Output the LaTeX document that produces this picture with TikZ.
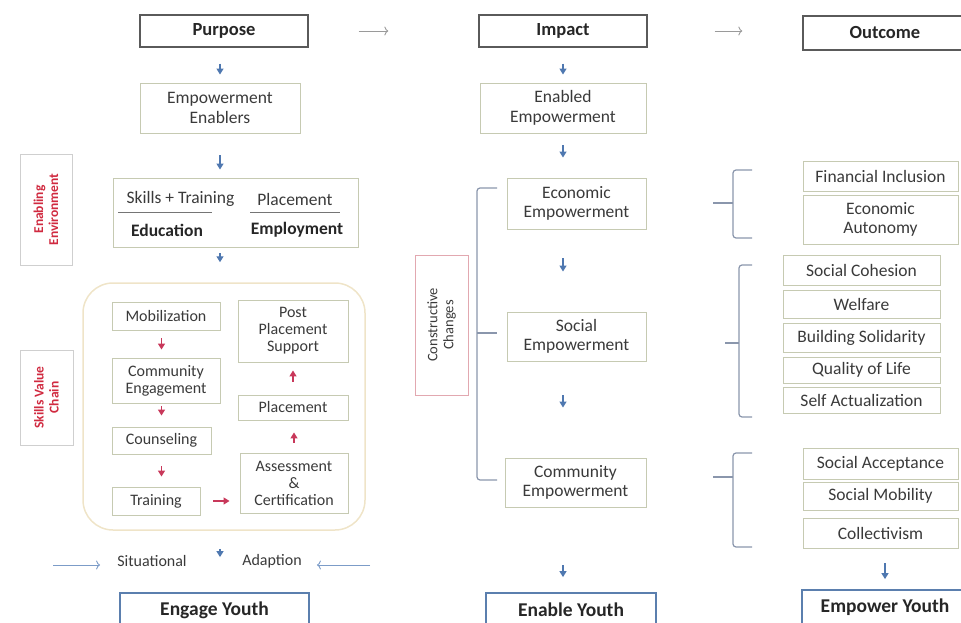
\documentclass[tikz,border=0pt]{standalone}
\usepackage{fontspec}
\setmainfont{Carlito}
\usetikzlibrary{arrows.meta}
\definecolor{txt}{HTML}{3A3A3A}
\definecolor{boxb}{HTML}{C6CAB2}
\definecolor{titleb}{HTML}{5A5A5A}
\definecolor{blueb}{HTML}{5B7FAE}
\definecolor{barr}{HTML}{4F78B0}
\definecolor{rarr}{HTML}{C8385A}
\definecolor{redt}{HTML}{D02A40}
\definecolor{cream}{HTML}{EFE4C8}
\definecolor{brkc}{HTML}{8A96AC}
\definecolor{garr}{HTML}{9A9A9A}
\definecolor{sarr}{HTML}{7C9CC8}
\definecolor{pinkb}{HTML}{E2A8B0}
\definecolor{sideb}{HTML}{CFCFCF}
\tikzset{
  lbox/.style={draw=boxb, line width=0.9pt, text=txt, align=center, inner sep=0pt,
    font=\fontsize{17.5}{19.5}\selectfont},
  cbox/.style={lbox, font=\fontsize{16}{17}\selectfont},
  tbox/.style={draw=titleb, line width=1.3pt, inner sep=0pt, text=black!85,
    font=\bfseries\fontsize{18.5}{20}\selectfont},
  ybox/.style={draw=blueb, line width=1.8pt, inner sep=0pt, text=black!85,
    font=\bfseries\fontsize{19.5}{21}\selectfont},
  sidebox/.style={draw=sideb, line width=0.9pt, inner sep=0pt, rotate=90, align=center,
    text=redt, font=\bfseries\fontsize{13.5}{15}\selectfont},
  barrow/.style={draw=barr, line width=1.3pt, -{Triangle[length=6pt,width=7pt]}},
  rarrow/.style={draw=rarr, line width=1.3pt, -{Triangle[length=6pt,width=7pt]}},
  garrow/.style={draw=garr, line width=0.9pt, -{To[length=4pt,width=9pt]}},
  sarrow/.style={draw=sarr, line width=0.9pt, -{To[length=4pt,width=9pt]}},
  brk/.style={draw=brkc, line width=1.2pt, rounded corners=3pt},
  plain/.style={inner sep=0pt, text=txt, font=\fontsize{17.5}{19.5}\selectfont},
}
\begin{document}
\begin{tikzpicture}[x=1pt,y=-1pt]
\useasboundingbox (0,0) rectangle (961,623);
% titles
\node[tbox, minimum width=168pt, minimum height=32pt] (purpose) at (224,31) {Purpose};
\node[tbox, minimum width=168pt, minimum height=32pt] (impact) at (563,31) {Impact};
\node[tbox, minimum width=164pt, minimum height=34pt] (outcome) at (885,33) {Outcome};
% left column
\node[lbox, minimum width=160pt, minimum height=50pt] (enablers) at (220,108) {Empowerment\\Enablers};
\node[sidebox, minimum width=111pt, minimum height=52pt] (envbox) at (46,209.5) {Enabling\\Environment};
\node[lbox, minimum width=245pt, minimum height=69pt] (skills) at (235.5,212.5) {};
\node[plain] (sktr) at (180.5,199) {Skills + Training};
\node[plain] (plc) at (295,199) {Placement};
\node[plain, font=\bfseries\fontsize{17.5}{19.5}\selectfont, text=black!85] (edu) at (167,230) {Education};
\node[plain, font=\bfseries\fontsize{17.5}{19.5}\selectfont, text=black!85] (emp) at (297,230) {Employment};
\draw[draw=txt!70, line width=0.8pt] (118,212) -- (212,212) (250,212) -- (340,212);
\node[draw=cream, line width=1.5pt, rounded corners=30pt, minimum width=282pt, minimum height=247pt, inner sep=0pt] (chain) at (224,406.5) {};
\node[sidebox, minimum width=95pt, minimum height=53pt] (svc) at (46.5,397.5) {Skills Value\\Chain};
\node[cbox, minimum width=108pt, minimum height=28pt] (mobil) at (166,316) {Mobilization};
\node[cbox, minimum width=108pt, minimum height=45pt] (comm) at (166,380.5) {Community\\Engagement};
\node[cbox, minimum width=99pt, minimum height=27pt] (counsel) at (161.5,440.5) {Counseling};
\node[cbox, minimum width=88pt, minimum height=28pt] (training) at (156,501) {Training};
\node[cbox, minimum width=108pt, minimum height=60pt] (assess) at (294,483) {Assessment\\\&\\Certification};
\node[cbox, minimum width=110pt, minimum height=25pt] (placement) at (293,407.5) {Placement};
\node[cbox, minimum width=110pt, minimum height=62pt] (post) at (293,331) {Post\\Placement\\Support};
\node[plain, font=\fontsize{16}{18}\selectfont] (situational) at (152,561) {Situational};
\node[plain, font=\fontsize{16}{18}\selectfont] (adaption) at (272,561) {Adaption};
\node[ybox, minimum width=189pt, minimum height=34pt] (engage) at (214.5,610) {Engage Youth};
% middle column
\node[lbox, minimum width=166pt, minimum height=50pt] (enabled) at (563,108) {Enabled\\Empowerment};
\node[draw=pinkb, line width=0.9pt, inner sep=0pt, rotate=90, align=center, text=txt,
  font=\fontsize{14.5}{16}\selectfont, minimum width=140pt, minimum height=53pt] (constr) at (441.5,325) {Constructive\\Changes};
\node[lbox, minimum width=139pt, minimum height=51pt] (econ) at (576.5,203.5) {Economic\\Empowerment};
\node[lbox, minimum width=139pt, minimum height=49pt] (social) at (576.5,336.5) {Social\\Empowerment};
\node[lbox, minimum width=141pt, minimum height=49pt] (community) at (575.5,482.5) {Community\\Empowerment};
\node[ybox, minimum width=170pt, minimum height=34pt] (enable) at (571,610) {Enable Youth};
% right column
\node[lbox, minimum width=155pt, minimum height=30pt] (fin) at (880.5,176) {Financial Inclusion};
\node[lbox, minimum width=155pt, minimum height=49pt] (eauto) at (880.5,219.5) {Economic\\Autonomy};
\node[lbox, minimum width=157pt, minimum height=30pt] (cohesion) at (861.5,270) {Social Cohesion};
\node[lbox, minimum width=157pt, minimum height=28pt] (welfare) at (861.5,304) {Welfare};
\node[lbox, minimum width=157pt, minimum height=29pt] (solid) at (861.5,337.5) {Building Solidarity};
\node[lbox, minimum width=157pt, minimum height=26pt] (qol) at (861.5,370) {Quality of Life};
\node[lbox, minimum width=157pt, minimum height=26pt] (selfact) at (861.5,400) {Self Actualization};
\node[lbox, minimum width=155pt, minimum height=31pt] (accept) at (880.5,463.5) {Social Acceptance};
\node[lbox, minimum width=155pt, minimum height=28pt] (mobility) at (880.5,496) {Social Mobility};
\node[lbox, minimum width=155pt, minimum height=30pt] (collect) at (880.5,533) {Collectivism};
\node[ybox, minimum width=166pt, minimum height=34pt] (empower) at (885,607) {Empower Youth};
% top arrows
\draw[garrow, shorten <=50pt, shorten >=90pt] (purpose.east) -- (impact.west);
\draw[garrow, shorten <=67pt, shorten >=60pt] (impact.east) -- (impact.east -| outcome.west);
% left arrows
\draw[barrow, shorten <=16pt, shorten >=8pt] (purpose.south -| enablers.north) -- (enablers.north);
\draw[barrow, shorten <=22pt, shorten >=8pt] (enablers.south) -- (enablers.south |- skills.north);
\draw[barrow, shorten <=6pt, shorten >=20pt] (enablers.south |- skills.south) -- (enablers.south |- chain.north);
\draw[barrow, shorten <=18pt, shorten >=35pt] (enablers.south |- chain.south) -- (enablers.south |- engage.north);
\coordinate (sl) at (53,565);
\coordinate (sr) at (370,565);
\draw[sarrow, shorten >=17pt] (sl) -- (sl -| situational.west);
\draw[sarrow, shorten >=15pt] (sr) -- (sr -| adaption.east);
% red arrows
\draw[rarrow, shorten <=8pt, shorten >=8pt] (mobil.south -| counsel.north) -- (counsel.north |- comm.north);
\draw[rarrow, shorten <=3pt, shorten >=11pt] (comm.south -| counsel.north) -- (counsel.north);
\draw[rarrow, shorten <=12pt, shorten >=10pt] (counsel.south) -- (counsel.south |- training.north);
\draw[rarrow, shorten <=13pt, shorten >=10pt] (training.east) -- (training.east -| assess.west);
\draw[rarrow, shorten <=10pt, shorten >=12pt] (assess.north) -- (assess.north |- placement.south);
\draw[rarrow, shorten <=13pt, shorten >=8pt] (placement.north) -- (placement.north |- post.south);
% middle arrows
\draw[barrow, shorten <=16pt, shorten >=8pt] (impact.south) -- (impact.south |- enabled.north);
\draw[barrow, shorten <=12pt, shorten >=20pt] (impact.south |- enabled.south) -- (impact.south |- econ.north);
\draw[barrow, shorten <=29pt, shorten >=40pt] (impact.south |- econ.south) -- (impact.south |- social.north);
\draw[barrow, shorten <=34pt, shorten >=50pt] (impact.south |- social.south) -- (impact.south |- community.north);
\draw[barrow, shorten <=58pt, shorten >=15pt] (impact.south |- community.south) -- (impact.south |- enable.north);
\draw[barrow, shorten <=15pt, shorten >=10pt] (collect.south -| empower.north) -- (empower.north);
% brackets
\draw[brk] (497,188) -- (477,188) -- (477,480) -- (497,480);
\draw[brk] (477,333) -- (497,333);
\draw[brk] (752,170) -- (733,170) -- (733,238) -- (752,238);
\draw[brk] (713,203) -- (733,203);
\draw[brk] (752,265) -- (739,265) -- (739,417) -- (752,417);
\draw[brk] (725,343) -- (739,343);
\draw[brk] (752,453) -- (733,453) -- (733,547) -- (752,547);
\draw[brk] (713,477) -- (733,477);
\end{tikzpicture}
\end{document}
